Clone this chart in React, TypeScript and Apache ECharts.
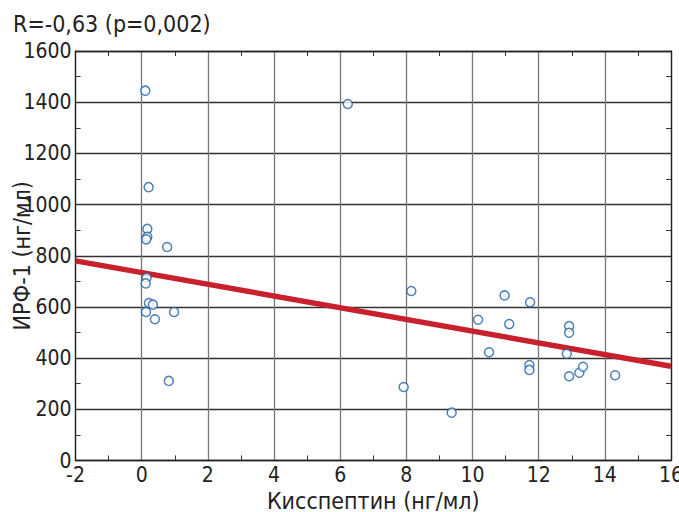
import React, { useEffect, useRef } from "react";
import * as echarts from "echarts";

const kisspeptin = [
  0.11, 0.21, 0.17, 0.17, 0.14, 0.77, 0.15, 0.12, 0.22, 0.34, 0.13, 0.98, 0.4, 0.82,
  6.23,
  8.15, 7.92, 9.37, 10.17, 10.5, 10.97, 11.11, 11.74, 11.72, 11.72, 12.92, 12.92, 12.85, 12.92, 13.23, 13.34, 14.31,
];
const irf1 = [
  1445, 1068, 905, 874, 864, 834, 714, 692, 615, 609, 580, 580, 552, 311,
  1393,
  662, 287, 187, 550, 423, 645, 533, 618, 373, 354, 525, 499, 417, 329, 343, 366, 333,
];
const fitX = [-2, 16];
const fitY = [780, 368];
const title = "R=-0,63 (p=0,002)";
const xName = "Кисспептин (нг/мл)";
const yName = "ИРФ-1 (нг/мл)";

const FONT = "'Liberation Sans Narrow', 'DejaVu Sans Condensed', Roboto";
const TICK_FS = 21;
const NAME_FS = 23;

export default function App() {
  const ref = useRef<HTMLDivElement>(null);
  useEffect(() => {
    const chart = echarts.init(ref.current!, null, { renderer: "svg" });
    const axisCommon = {
      type: "value" as const,
      axisLine: { show: true, onZero: false, lineStyle: { color: "#222", width: 1.3 } },
      axisTick: { show: false, inside: true },
      minorTick: { show: true, splitNumber: 2, length: 5, lineStyle: { color: "#333", width: 1 } },
    };
    chart.setOption({
      animation: false,
      backgroundColor: "#fff",
      title: {
        text: title,
        left: 8,
        top: 7,
        textStyle: { fontFamily: FONT, fontSize: NAME_FS, fontWeight: "normal", color: "#222" },
      },
      grid: { left: 75.5, right: 8, top: 51, bottom: 51.5, containLabel: false, outerBoundsMode: "none" },
      xAxis: [
        {
          ...axisCommon,
          min: -2,
          max: 16,
          interval: 2,
          position: "bottom",
          name: xName,
          nameLocation: "middle",
          nameGap: 29,
          nameMoveOverlap: false,
          nameTextStyle: { fontFamily: FONT, fontSize: NAME_FS, color: "#222" },
          axisLabel: { fontFamily: FONT, fontSize: TICK_FS, color: "#222", margin: 4 },
          splitLine: { show: true, lineStyle: { color: "#777", width: 1.3 } },
        },
        {
          ...axisCommon,
          min: -2,
          max: 16,
          interval: 2,
          position: "top",
          axisLabel: { show: false },
          splitLine: { show: false },
        },
      ],
      yAxis: [
        {
          ...axisCommon,
          min: 0,
          max: 1600,
          interval: 200,
          position: "left",
          name: yName,
          nameLocation: "middle",
          nameGap: 42,
          nameMoveOverlap: false,
          nameTextStyle: { fontFamily: FONT, fontSize: NAME_FS, color: "#222" },
          axisLabel: { fontFamily: FONT, fontSize: TICK_FS, color: "#222", margin: 4, formatter: (v: number) => String(v) },
          splitLine: { show: true, lineStyle: { color: "#333", width: 1.3 } },
        },
        {
          ...axisCommon,
          min: 0,
          max: 1600,
          interval: 200,
          position: "right",
          axisLabel: { show: false },
          splitLine: { show: false },
        },
      ],
      series: [
        {
          type: "line",
          data: fitX.map((x, i) => [x, fitY[i]]),
          symbol: "none",
          lineStyle: { color: "#c8202c", width: 5.5 },
          z: 2,
        },
        {
          type: "scatter",
          data: kisspeptin.map((x, i) => [x, irf1[i]]),
          symbol: "circle",
          symbolSize: 9,
          itemStyle: { color: "#fff", borderColor: "#1f62a8", borderWidth: 1.5 },
          z: 3,
        },
      ],
    });
    return () => chart.dispose();
  }, []);
  return <div ref={ref} style={{ width: 679, height: 512, position: "absolute", left: 0, top: 0 }} />;
}
